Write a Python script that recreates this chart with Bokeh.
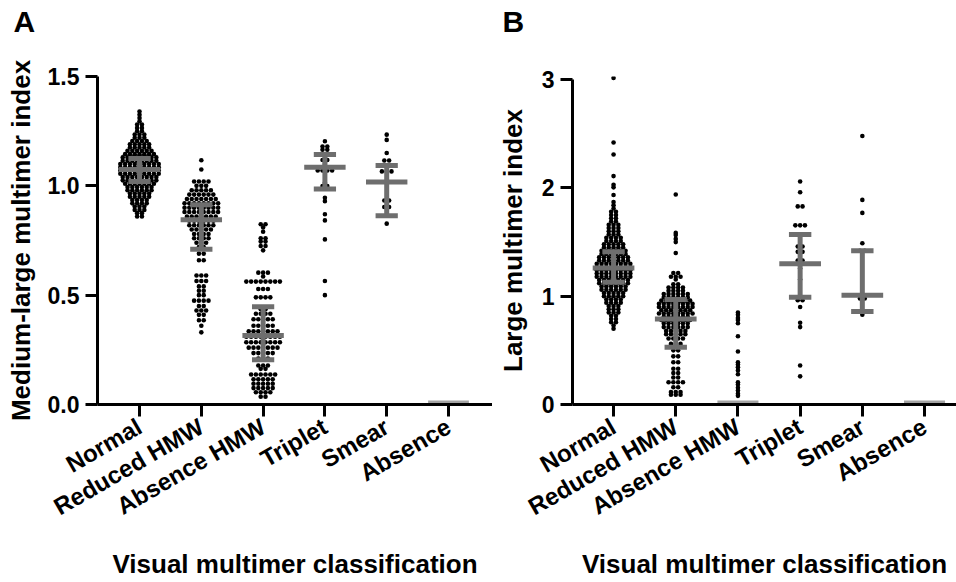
import math
from bokeh.plotting import figure
from bokeh.models import Range1d, FixedTicker, NumeralTickFormatter, Title
from bokeh.layouts import row
from bokeh.embed import file_html
from bokeh.resources import INLINE

categories = ["Normal", "Reduced HMW", "Absence HMW", "Triplet", "Smear", "Absence"]

# ---------------- Panel A: medium-large multimer index ----------------
# levels = y value of a row of dots, counts = number of dots in that row
A_normal_levels = [1.34, 1.325, 1.31, 1.295, 1.28, 1.265, 1.25, 1.235, 1.22, 1.205, 1.19, 1.175,
                   1.16, 1.145, 1.13, 1.115, 1.10, 1.085, 1.07, 1.055, 1.04, 1.025, 1.01, 0.995,
                   0.98, 0.965, 0.95, 0.935, 0.92, 0.905, 0.89, 0.875, 0.86]
A_normal_counts = [1, 1, 1, 1, 2, 2, 2, 3, 3, 4, 5, 5, 6, 7, 8, 8, 9, 9, 9, 9, 8, 8, 7, 6,
                   6, 5, 5, 4, 4, 3, 3, 2, 2]
A_reduced_levels = [1.117, 1.075, 1.02, 1.00, 0.98, 0.96, 0.94, 0.92, 0.90, 0.88, 0.86, 0.84,
                    0.82, 0.80, 0.78, 0.76, 0.74, 0.72, 0.69, 0.66, 0.59, 0.565, 0.54, 0.52,
                    0.50, 0.475, 0.45, 0.43, 0.41, 0.385, 0.36, 0.33]
A_reduced_counts = [1, 1, 4, 3, 5, 6, 7, 8, 8, 8, 7, 6, 6, 5, 4, 4, 3, 2, 2, 2, 3, 3, 2, 2,
                    2, 4, 2, 3, 2, 2, 1, 1]
A_abshmw_levels = [0.824, 0.81, 0.79, 0.76, 0.745, 0.725, 0.705, 0.603, 0.585, 0.562, 0.528,
                   0.49, 0.436, 0.415, 0.39, 0.36, 0.335, 0.31, 0.285, 0.26, 0.235, 0.21,
                   0.178, 0.163, 0.137, 0.115, 0.095, 0.075, 0.056, 0.036]
A_abshmw_counts = [2, 1, 1, 2, 2, 2, 1, 3, 1, 8, 3, 4, 2, 4, 5, 5, 7, 8, 8, 7, 5, 3,
                   3, 2, 6, 5, 5, 5, 4, 2]
A_triplet_levels = [1.204, 1.18, 1.165, 1.143, 1.118, 1.10, 1.07, 1.014, 0.999, 0.945, 0.93,
                    0.87, 0.842, 0.755, 0.565, 0.50]
A_triplet_counts = [1, 2, 2, 1, 2, 1, 4, 1, 2, 1, 1, 1, 1, 1, 1, 1]
A_smear_levels = [1.234, 1.21, 1.15, 1.116, 1.066, 0.933, 0.903, 0.827]
A_smear_counts = [1, 1, 1, 2, 3, 2, 2, 1]
A_absence_levels = []
A_absence_counts = []
A_median = [1.075, 0.845, 0.315, 1.085, 1.018, 0.0]
A_q1 = [1.02, 0.71, 0.205, 0.985, 0.863, 0.0]
A_q3 = [1.125, 0.913, 0.447, 1.143, 1.093, 0.0]

# ---------------- Panel B: large multimer index ----------------
B_normal_levels = [0.70, 0.73, 0.76, 0.79, 0.82, 0.85, 0.88, 0.91, 0.94, 0.97, 1.00, 1.03,
                   1.06, 1.09, 1.12, 1.15, 1.18, 1.21, 1.24, 1.27, 1.30, 1.33, 1.36, 1.39,
                   1.42, 1.45, 1.48, 1.51, 1.54, 1.57, 1.60, 1.63, 1.66, 1.69, 1.72, 1.75,
                   1.78, 1.81, 1.84, 1.87, 1.935, 2.006, 2.03, 2.11, 2.31, 2.42, 3.016]
B_normal_counts = [1, 1, 2, 2, 2, 3, 3, 3, 4, 4, 5, 5, 6, 6, 7, 7, 8, 8, 8, 8, 8, 7, 7, 6,
                   6, 5, 5, 4, 4, 3, 3, 3, 3, 2, 2, 2, 2, 1, 1, 1, 1, 1, 1, 1, 1, 1, 1]
B_reduced_levels = [1.94, 1.585, 1.565, 1.53, 1.50, 1.40, 1.215, 1.18, 1.155, 1.11, 1.08, 1.05,
                    1.02, 0.99, 0.96, 0.93, 0.90, 0.87, 0.84, 0.81, 0.78, 0.75, 0.715, 0.68,
                    0.65, 0.61, 0.56, 0.50, 0.445, 0.39, 0.33, 0.29, 0.25, 0.205, 0.16, 0.115, 0.09]
B_reduced_counts = [1, 1, 1, 1, 1, 1, 2, 3, 1, 2, 4, 4, 6, 6, 7, 8, 8, 7, 8, 6, 7, 6, 6, 5,
                    5, 4, 3, 2, 2, 2, 2, 2, 2, 4, 2, 3, 3]
B_abshmw_levels = [0.85, 0.83, 0.80, 0.78, 0.75, 0.63, 0.49, 0.39, 0.37, 0.345, 0.315, 0.28,
                   0.205, 0.185, 0.155, 0.13, 0.10, 0.08]
B_abshmw_counts = [1] * 18
B_triplet_levels = [2.06, 1.96, 1.83, 1.655, 1.46, 1.41, 1.33, 1.256, 1.155, 0.963, 0.90,
                    0.755, 0.715, 0.36, 0.26]
B_triplet_counts = [1, 1, 2, 3, 2, 2, 2, 1, 1, 2, 1, 1, 1, 1, 1]
B_smear_levels = [2.48, 1.89, 1.77, 1.49, 1.42, 0.98, 0.83]
B_smear_counts = [1, 1, 1, 1, 2, 2, 1]
B_absence_levels = []
B_absence_counts = []
B_median = [1.26, 0.79, 0.0, 1.30, 1.01, 0.0]
B_q1 = [1.13, 0.53, 0.0, 0.99, 0.86, 0.0]
B_q3 = [1.41, 0.97, 0.0, 1.57, 1.42, 0.0]

FONT = "Liberation Sans"
GRAY = "#6e6e6e"
LIGHT = "#a3a3a3"
DOT_STEP_PX = 4.8
HEIGHT = 582


def dot_positions(groups, x_px_per_unit):
    xs, ys = [], []
    for i, (levels, counts) in enumerate(groups):
        for lv, n in zip(levels, counts):
            for k in range(n):
                xs.append(i + 1 + (k - (n - 1) / 2) * DOT_STEP_PX / x_px_per_unit)
                ys.append(lv)
    return xs, ys


def make_panel(letter, letter_offset, ytitle, groups, med, q1, q3, yticks, yfmt, yr, ybounds,
               xr, width, bl, bt, br, ytitle_standoff):
    p = figure(width=width, height=HEIGHT, x_range=Range1d(*xr), y_range=Range1d(*yr),
               output_backend="svg", toolbar_location=None,
               min_border_left=bl, min_border_right=br, min_border_top=bt, min_border_bottom=178)
    p.outline_line_color = None
    p.grid.visible = False
    p.background_fill_color = "white"
    p.border_fill_color = "white"

    frame_w = width - bl - br
    x_px = frame_w / (xr[1] - xr[0])
    xs, ys = dot_positions(groups, x_px)
    p.scatter(xs, ys, size=4.6, fill_color="black", line_color=None)

    pos = [i + 1 for i in range(len(categories))]
    full = [i for i in range(len(pos)) if q3[i] > 0]
    zero = [i for i in range(len(pos)) if q3[i] == 0]
    fx = [pos[i] for i in full]
    p.segment(x0=fx, y0=[q1[i] for i in full], x1=fx, y1=[q3[i] for i in full],
              line_color=GRAY, line_width=5)
    for q in (q1, q3):
        p.segment(x0=[x - 0.18 for x in fx], y0=[q[i] for i in full],
                  x1=[x + 0.18 for x in fx], y1=[q[i] for i in full],
                  line_color=GRAY, line_width=5)
    p.segment(x0=[x - 0.335 for x in fx], y0=[med[i] for i in full],
              x1=[x + 0.335 for x in fx], y1=[med[i] for i in full],
              line_color=GRAY, line_width=5)
    zx = [pos[i] for i in zero]
    p.segment(x0=[x - 0.33 for x in zx], y0=[med[i] for i in zero],
              x1=[x + 0.33 for x in zx], y1=[med[i] for i in zero],
              line_color=LIGHT, line_width=8)

    for ax in (p.xaxis[0], p.yaxis[0]):
        ax.axis_line_width = 3
        ax.axis_line_color = "black"
        ax.major_tick_line_width = 3
        ax.major_tick_line_color = "black"
        ax.major_tick_out = 12
        ax.major_tick_in = 0
        ax.minor_tick_line_color = None
        ax.major_label_text_font = FONT
        ax.major_label_text_font_style = "bold"
        ax.major_label_text_color = "black"
        ax.axis_label_text_font = FONT
        ax.axis_label_text_font_style = "bold"
        ax.axis_label_text_color = "black"
        ax.axis_label_text_font_size = "26px"

    p.yaxis.ticker = FixedTicker(ticks=yticks)
    p.yaxis.formatter = NumeralTickFormatter(format=yfmt)
    p.yaxis.bounds = ybounds
    p.yaxis.major_label_text_font_size = "23px"
    p.yaxis.major_label_standoff = 6
    p.yaxis.axis_label = ytitle
    p.yaxis.axis_label_standoff = ytitle_standoff

    p.xaxis.ticker = FixedTicker(ticks=pos)
    p.xaxis.major_label_overrides = {x: c for x, c in zip(pos, categories)}
    p.xaxis.major_label_orientation = math.pi / 6
    p.xaxis.major_label_text_font_size = "24px"
    p.xaxis.major_label_standoff = 8
    p.xaxis.axis_label = "Visual multimer classification"
    p.xaxis.axis_label_standoff = 14

    # panel letter (outer) with an empty spacer title between it and the frame
    p.title.text = letter
    p.title.text_font = FONT
    p.title.text_font_size = "30px"
    p.title.text_font_style = "bold"
    p.title.text_color = "black"
    p.title.align = "left"
    p.title.offset = letter_offset
    p.title.standoff = 0
    p.add_layout(Title(text=" ", text_font_size="14px", standoff=21), "above")
    return p


groups_A = [(A_normal_levels, A_normal_counts), (A_reduced_levels, A_reduced_counts),
            (A_abshmw_levels, A_abshmw_counts), (A_triplet_levels, A_triplet_counts),
            (A_smear_levels, A_smear_counts), (A_absence_levels, A_absence_counts)]
groups_B = [(B_normal_levels, B_normal_counts), (B_reduced_levels, B_reduced_counts),
            (B_abshmw_levels, B_abshmw_counts), (B_triplet_levels, B_triplet_counts),
            (B_smear_levels, B_smear_counts), (B_absence_levels, B_absence_counts)]

pA = make_panel("A", -84, "Medium-large multimer index", groups_A, A_median, A_q1, A_q3,
                [0, 0.5, 1.0, 1.5], "0.0", (0, 1.5), (0, 1.5), (0.32, 6.712),
                492, 97, 76, 0, 9)
pB = make_panel("B", -70, "Large multimer index", groups_B, B_median, B_q1, B_q3,
                [0, 1, 2, 3], "0", (0, 3.03), (0, 3), (0.34, 6.514),
                464, 80, 76, 0, 11)

layout = row(pA, pB, spacing=0)
open("out.html", "w").write(file_html(layout, INLINE))
